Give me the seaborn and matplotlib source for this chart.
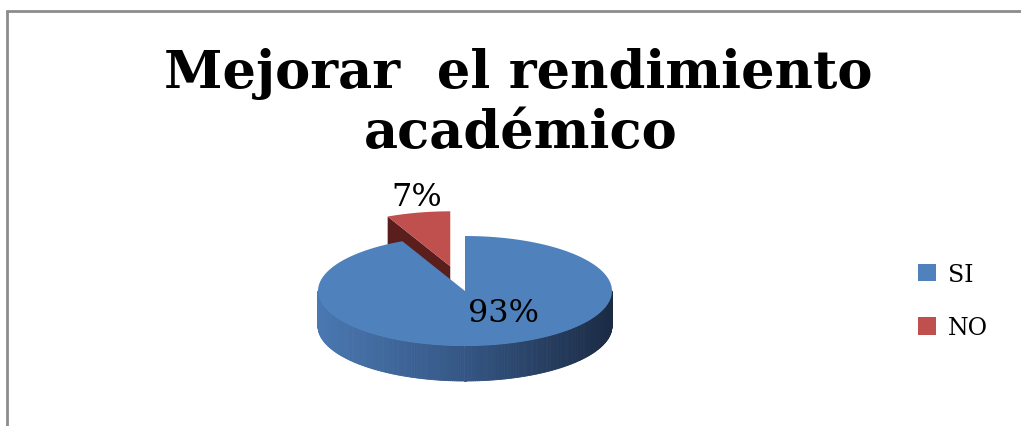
import numpy as np
import matplotlib
matplotlib.use("Agg")
import matplotlib.pyplot as plt
import seaborn as sns
from matplotlib.patches import Polygon, Patch
from matplotlib.collections import PolyCollection
from matplotlib.lines import Line2D
from matplotlib.colors import to_rgb

# data
categories = ["SI", "NO"]
values = [93, 7]
labels = ["93%", "7%"]
title_lines = ["Mejorar  el rendimiento", "académico"]

sns.set_theme(style="white")
plt.rcParams["font.family"] = ["DejaVu Serif"]
plt.rcParams["text.color"] = "black"
palette = sns.color_palette(["#4F81BD", "#C0504D"])

W, H, DPI = 1021, 427, 100
fig = plt.figure(figsize=(W / DPI, H / DPI), dpi=DPI)
fig.patch.set_facecolor("white")

# pie layout (pixels), 3D look: squashed ellipse with a depth band
CX, CY, R = 465, 292, 147
K = 55 / 147          # vertical squash of the top face
DEPTH = 35 / 147      # thickness of the pie
EXPLODE = [0.0, 0.46]

ax = fig.add_axes([0, 0, 1, 1])
ax.set_xlim(-CX / R, (W - CX) / R)
ax.set_ylim(-(H - CY) / R, CY / R)
ax.axis("off")


def pt(theta, center, r=1.0, dz=0.0):
    t = np.radians(theta)
    return (center[0] + r * np.cos(t), center[1] + K * r * np.sin(t) - dz)


def top_face(t1, t2, center):
    angs = np.linspace(t1, t2, 200)
    return [center] + [pt(a, center) for a in angs]


def lerp_color(stops, t):
    t = min(max(t, 0.0), 1.0)
    n = len(stops) - 1
    i = min(int(t * n), n - 1)
    f = t * n - i
    a, b = np.array(to_rgb(stops[i])), np.array(to_rgb(stops[i + 1]))
    return tuple(a + (b - a) * f)


# wedge angles: start at 12 o'clock, go clockwise, stored as ccw ranges
total = sum(values)
start = 90.0
wedges = []
for v in values:
    sweep = 360.0 * v / total
    wedges.append((start - sweep + 360.0, start + 360.0))
    start -= sweep
(si1, si2), (no1, no2) = wedges

# exploded NO slice
mid = np.radians((no1 + no2) / 2)
c_no = (EXPLODE[1] * np.cos(mid), K * EXPLODE[1] * np.sin(mid))
# radial face on the edge facing the viewer
p_arc = pt(no2, c_no)
face = [c_no, p_arc, (p_arc[0], p_arc[1] - DEPTH), (c_no[0], c_no[1] - DEPTH)]
ax.add_patch(Polygon(face, closed=True, facecolor="#5a1e1c", edgecolor="none", zorder=1))
ax.add_patch(Polygon(top_face(no1, no2, c_no), closed=True,
                     facecolor=palette[1], edgecolor="none", zorder=2))

# SI slice: front band with horizontal gradient
c_si = (0.0, 0.0)
side_stops = ["#4A78B2", "#345684", "#1B2B44"]
a_lo, a_hi = max(si1, 180.0), min(si2, 360.0)
angs = np.linspace(a_lo, a_hi, 240)
quads, cols = [], []
for a, b in zip(angs[:-1], angs[1:]):
    p1, p2 = pt(a, c_si), pt(b, c_si)
    quads.append([p1, p2, (p2[0], p2[1] - DEPTH), (p1[0], p1[1] - DEPTH)])
    cols.append(lerp_color(side_stops, (np.cos(np.radians((a + b) / 2)) + 1) / 2))
ax.add_collection(PolyCollection(quads, facecolors=cols, edgecolors=cols,
                                 linewidths=0.6, zorder=3))
ax.add_patch(Polygon(top_face(si1, si2, c_si), closed=True,
                     facecolor=palette[0], edgecolor="none", zorder=4))

# data labels
fig.text(503 / W, 1 - 313 / H, labels[0], ha="center", va="center", fontsize=23)
fig.text(417 / W, 1 - 197 / H, labels[1], ha="center", va="center", fontsize=23)

# title
fig.text(518 / W, 1 - 88 / H, title_lines[0], ha="center", va="baseline",
         fontsize=38, fontweight="bold")
fig.text(521 / W, 1 - 148 / H, title_lines[1], ha="center", va="baseline",
         fontsize=38, fontweight="bold")

# legend
handles = [Patch(facecolor=palette[i], edgecolor="none") for i in range(len(categories))]
fig.legend(handles, categories, loc="center left",
           bbox_to_anchor=(897 / W, 1 - 302 / H), frameon=False, fontsize=17,
           handlelength=0.75, handleheight=0.75, handletextpad=0.5,
           labelspacing=1.3)

# chart area border (left and top visible)
fig.add_artist(Line2D([7 / W, 7 / W], [0, 1 - 12 / H], color="#8c8c8c", lw=2))
fig.add_artist(Line2D([7 / W, 1], [1 - 12 / H, 1 - 12 / H], color="#8c8c8c", lw=2))

fig.savefig("out.png", dpi=DPI, facecolor="white")
